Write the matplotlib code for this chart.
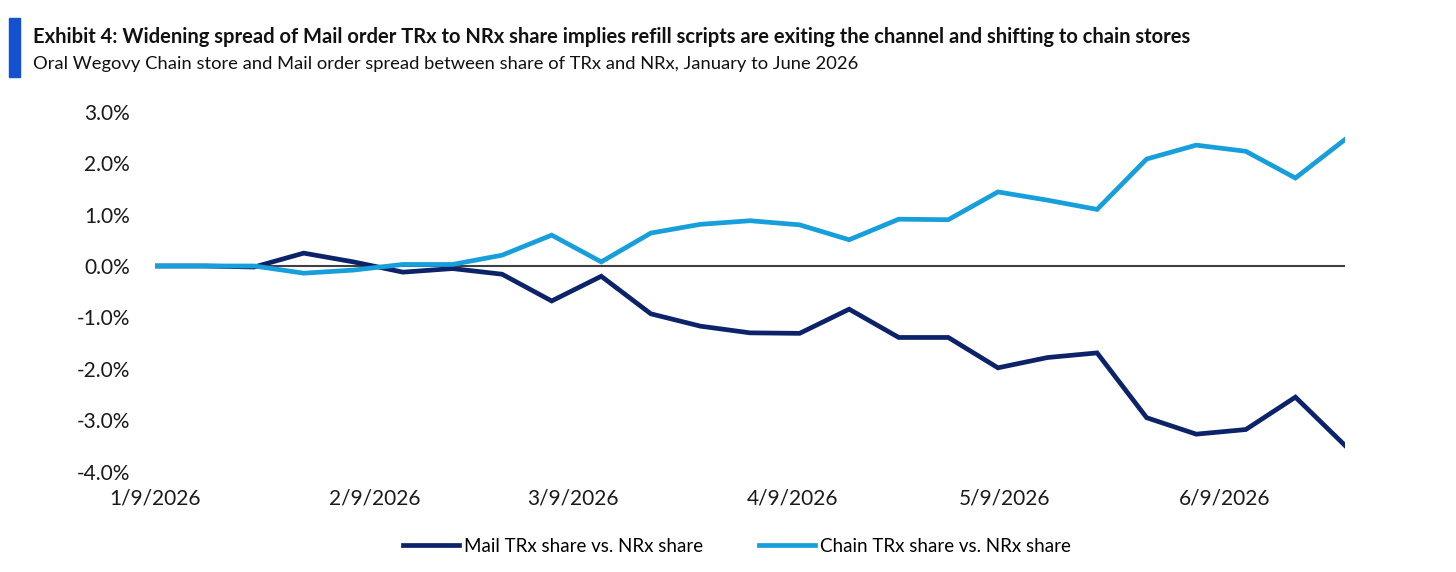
import numpy as np
import pandas as pd
import matplotlib
matplotlib.use("Agg")
import matplotlib.pyplot as plt
import matplotlib.dates as mdates
from matplotlib.patches import Rectangle

# Dados semanais (spread TRx share - NRx share, em %)
datas = pd.date_range("2026-01-09", periods=25, freq="7D")
mail = [0.0, 0.0, -0.02, 0.25, 0.08, -0.12, -0.05, -0.16, -0.68, -0.2,
        -0.93, -1.17, -1.30, -1.31, -0.84, -1.39, -1.39, -1.98, -1.78, -1.69,
        -2.95, -3.27, -3.18, -2.55, -3.49]
chain = [0.0, 0.0, 0.0, -0.14, -0.08, 0.03, 0.03, 0.21, 0.60, 0.08,
         0.64, 0.81, 0.88, 0.80, 0.51, 0.91, 0.90, 1.44, 1.28, 1.10,
         2.08, 2.35, 2.23, 1.71, 2.46]
ticks_x = pd.to_datetime(["2026-01-09", "2026-02-09", "2026-03-09",
                          "2026-04-09", "2026-05-09", "2026-06-09"])
ticks_y = [3, 2, 1, 0, -1, -2, -3, -4]

titulo = ("Exhibit 4: Widening spread of Mail order TRx to NRx share implies "
          "refill scripts are exiting the channel and shifting to chain stores")
subtitulo = ("Oral Wegovy Chain store and Mail order spread between share of TRx "
             "and NRx, January to June 2026")

cor_mail = "#0C2369"
cor_chain = "#169FDB"

plt.rcParams["font.family"] = ["Lato", "DejaVu Sans"]

fig = plt.figure(figsize=(14.56, 5.72), dpi=100)
ax = fig.add_axes([155 / 1456, 1 - 471.7 / 572, 1190 / 1456, 360 / 572])

ax.plot(datas, mail, color=cor_mail, lw=3.4, solid_joinstyle="miter",
        label="Mail TRx share vs. NRx share", zorder=3)
ax.plot(datas, chain, color=cor_chain, lw=3.4, solid_joinstyle="miter",
        label="Chain TRx share vs. NRx share", zorder=3)
ax.axhline(0, color="#404040", lw=1.5, zorder=2)

ax.set_xlim(datas[0], datas[-1])
ax.set_ylim(-4, 3)
ax.set_xticks(ticks_x)
ax.xaxis.set_major_formatter(mdates.DateFormatter("%-m/%-d/%Y"))
ax.set_yticks(ticks_y)
ax.set_yticklabels([f"{v:.1f}%" for v in ticks_y])
for s in ax.spines.values():
    s.set_visible(False)
ax.tick_params(axis="both", length=0, labelsize=15, colors="#1a1a1a")
ax.tick_params(axis="y", pad=18)
ax.tick_params(axis="x", pad=12)

# Barra azul e titulos
fig.patches.append(Rectangle((9 / 1456, 1 - 77 / 572), 11 / 1456, 59 / 572,
                             transform=fig.transFigure, color="#1450D2"))
t1 = fig.text(33 / 1456, 1 - 37 / 572, titulo, fontsize=16, fontweight="bold",
              va="center", color="#111111")
t2 = fig.text(33 / 1456, 1 - 64 / 572, subtitulo, fontsize=16,
              va="center", color="#111111")

leg = fig.legend(loc="center", bbox_to_anchor=(0.506, 1 - 546 / 572), ncol=2,
                 frameon=False, handlelength=3.0, handletextpad=0.25,
                 columnspacing=3.0, prop={"size": 13.5})

# ajustar largura dos titulos (fonte condensada no original)
r = fig.canvas.get_renderer()
for t, largura in [(t1, 1162), (t2, 827)]:
    w = t.get_window_extent(r).width
    t.set_fontsize(t.get_fontsize() * largura / w)

fig.savefig("out.png", dpi=100)
